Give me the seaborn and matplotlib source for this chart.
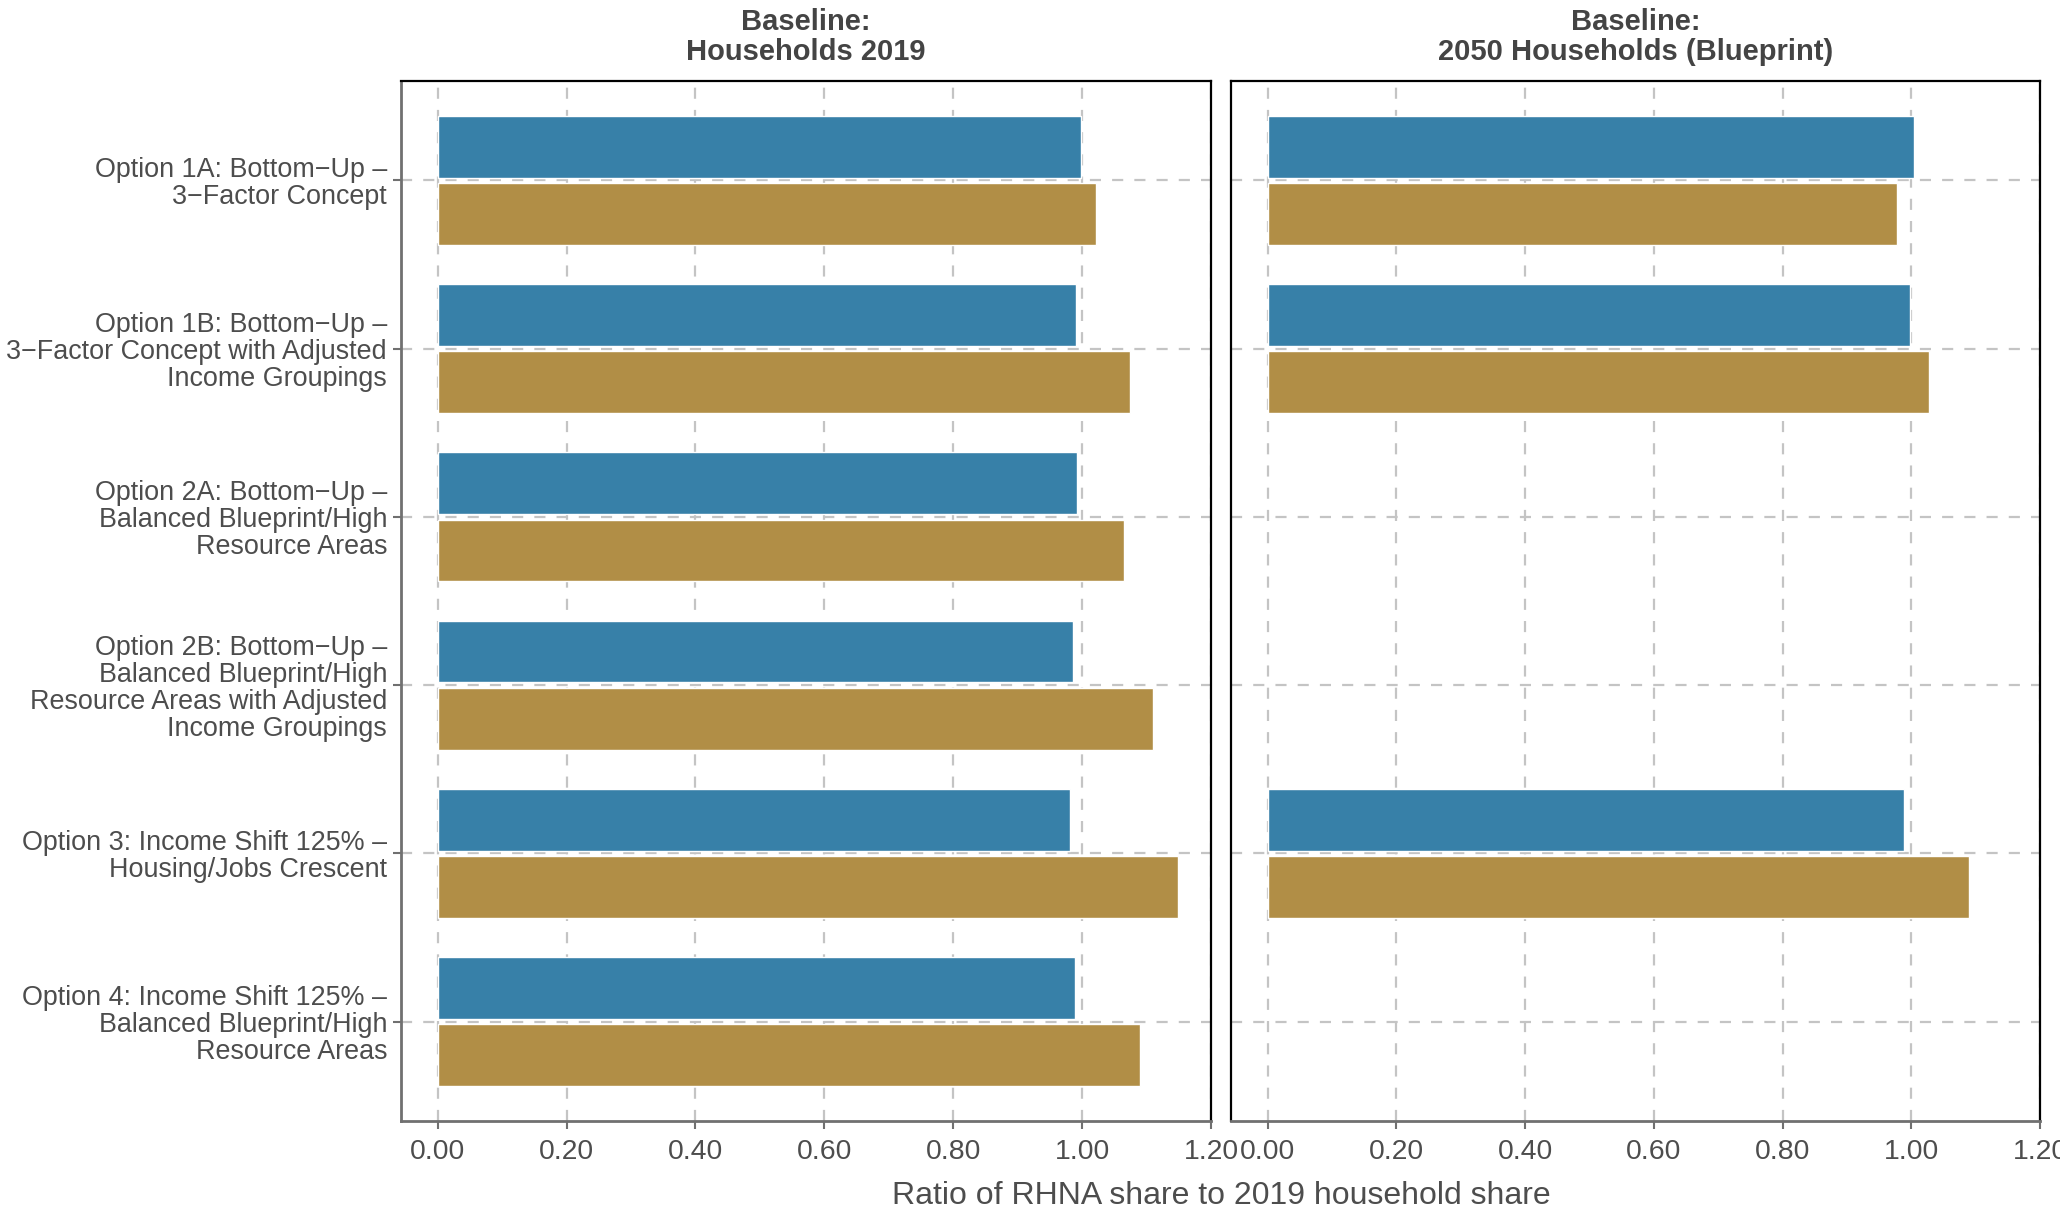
import numpy as np
import pandas as pd
import matplotlib
matplotlib.use("Agg")
import matplotlib.pyplot as plt
import seaborn as sns

sns.set_theme(style="white")
plt.rcParams['font.family'] = ['Liberation Sans', 'DejaVu Sans']

# ---------------- data ----------------
options = [
    "Option 1A: Bottom\u2212Up \u2013\n3\u2212Factor Concept",
    "Option 1B: Bottom\u2212Up \u2013\n3\u2212Factor Concept with Adjusted\nIncome Groupings",
    "Option 2A: Bottom\u2212Up \u2013\nBalanced Blueprint/High\nResource Areas",
    "Option 2B: Bottom\u2212Up \u2013\nBalanced Blueprint/High\nResource Areas with Adjusted\nIncome Groupings",
    "Option 3: Income Shift 125% \u2013\nHousing/Jobs Crescent",
    "Option 4: Income Shift 125% \u2013\nBalanced Blueprint/High\nResource Areas",
]
panels = ["Baseline:\nHouseholds 2019", "Baseline:\n2050 Households (Blueprint)"]
series = ["Series 1", "Series 2"]

# panel 1: Households 2019
p1_series1 = [0.998, 0.991, 0.992, 0.986, 0.981, 0.989]
p1_series2 = [1.022, 1.074, 1.065, 1.110, 1.149, 1.090]
# panel 2: 2050 Households (Blueprint)
p2_series1 = [1.004, 0.998, np.nan, np.nan, 0.989, np.nan]
p2_series2 = [0.978, 1.028, np.nan, np.nan, 1.090, np.nan]

colors = ["#3780a8", "#b18e46"]
xticks = [0.0, 0.2, 0.4, 0.6, 0.8, 1.0, 1.2]

rows = []
for pnl, s1, s2 in [(panels[0], p1_series1, p1_series2), (panels[1], p2_series1, p2_series2)]:
    for opt, a, b in zip(options, s1, s2):
        rows.append((pnl, opt, series[0], a))
        rows.append((pnl, opt, series[1], b))
df = pd.DataFrame(rows, columns=["panel", "option", "series", "ratio"])

# ---------------- figure ----------------
W, H = 2060, 1209
fig = plt.figure(figsize=(W / 100, H / 100), dpi=100)
txt = "#4d4d4d"
ax_gray = "#707070"

axes = [
    fig.add_axes([401 / W, 88 / H, 810 / W, 1040 / H]),
    fig.add_axes([1231 / W, 88 / H, 809 / W, 1040 / H]),
]

for i, (ax, pnl) in enumerate(zip(axes, panels)):
    sub = df[df["panel"] == pnl]
    sns.barplot(data=sub, y="option", x="ratio", hue="series", order=options,
                hue_order=series, palette=colors, orient="h", width=0.80, gap=0.08,
                errorbar=None, saturation=1, legend=False, ax=ax, zorder=2)
    ax.set_xlim(-0.057, 1.2)
    ax.set_ylim(5.59, -0.59)
    ax.set_xticks(xticks)
    ax.set_xticklabels([f"{v:.2f}" for v in xticks])
    ax.set_xlabel("")
    ax.set_ylabel("")
    ax.set_axisbelow(True)
    ax.grid(True, which="major", axis="both", color="#c4c4c4",
            linestyle=(0, (5, 5)), linewidth=1.6)
    for side in ["top", "right"]:
        ax.spines[side].set_color("black")
        ax.spines[side].set_linewidth(1.6)
    ax.spines["bottom"].set_color(ax_gray)
    ax.spines["bottom"].set_linewidth(2.0)
    ax.tick_params(axis="x", colors=ax_gray, labelcolor=txt, labelsize=20.4,
                   length=6, width=1.5, pad=7, bottom=True)
    if i == 0:
        ax.spines["left"].set_color(ax_gray)
        ax.spines["left"].set_linewidth(2.0)
        ax.tick_params(axis="y", colors=ax_gray, labelcolor=txt, labelsize=19.4,
                       length=6, width=1.5, pad=4, left=True)
        for lab in ax.get_yticklabels():
            lab.set_linespacing(1.05)
    else:
        ax.spines["left"].set_color("black")
        ax.spines["left"].set_linewidth(1.6)
        ax.tick_params(axis="y", left=False, labelleft=False)
    ax.set_title(pnl, fontsize=21, fontweight="bold", color="#444444",
                 pad=15, linespacing=1.1)

fig.text(1221 / W, 1 - 1196 / H, "Ratio of RHNA share to 2019 household share",
         ha="center", va="center", fontsize=23, color=txt)

fig.savefig("out.png", dpi=100)
